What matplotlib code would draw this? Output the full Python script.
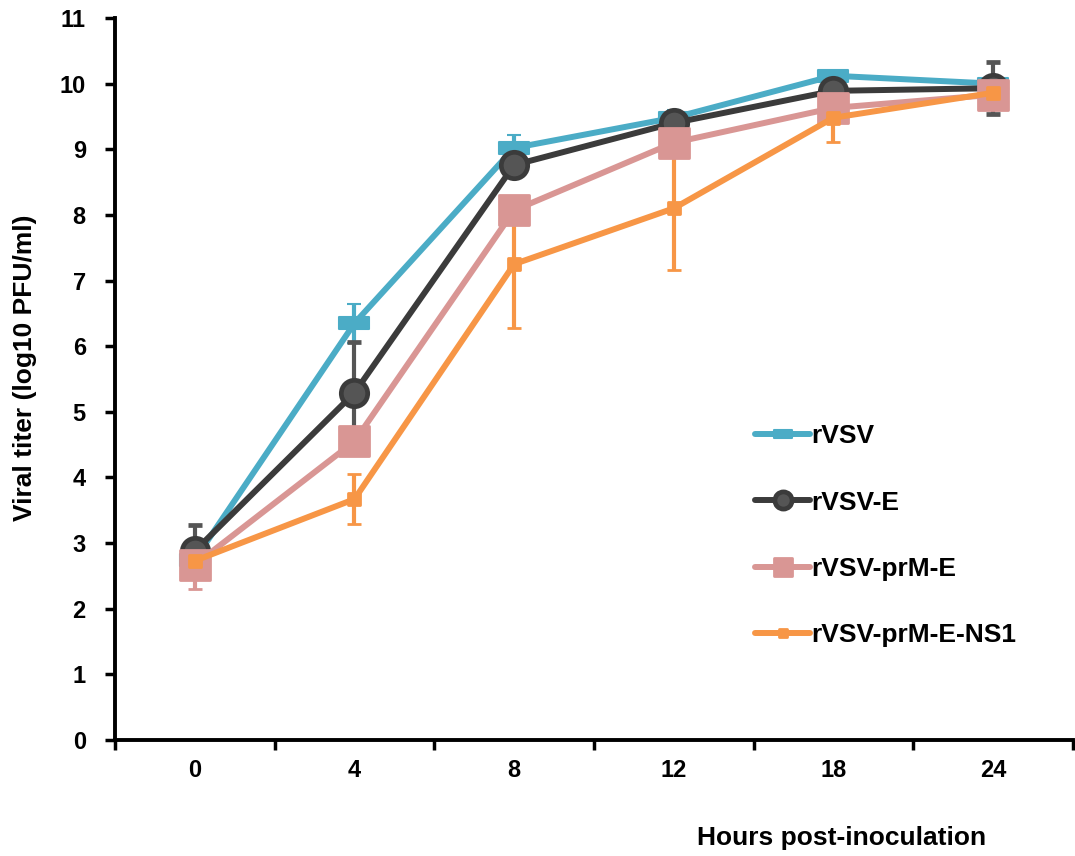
import matplotlib
matplotlib.use("Agg")
import matplotlib.pyplot as plt
from matplotlib.path import Path
from matplotlib.markers import MarkerStyle

# data
hours = ["0", "4", "8", "12", "18", "24"]
series_names = ["rVSV", "rVSV-E", "rVSV-prM-E", "rVSV-prM-E-NS1"]
rvsv = [2.75, 6.35, 9.02, 9.48, 10.12, 10.0]
rvsv_err = [0.1, 0.3, 0.2, 0.12, 0.07, 0.05]
rvsv_e = [2.88, 5.29, 8.76, 9.40, 9.89, 9.93]
rvsv_e_err = [0.40, 0.78, 0.1, 0.15, 0.1, 0.40]
rvsv_prme = [2.67, 4.55, 8.07, 9.10, 9.63, 9.83]
rvsv_prme_err = [0.37, 0.2, 0.2, 0.2, 0.15, 0.1]
rvsv_ns1 = [2.73, 3.67, 7.25, 8.10, 9.48, 9.86]
rvsv_ns1_err = [0.1, 0.38, 0.97, 0.94, 0.37, 0.1]

plt.rcParams['font.family'] = ['Liberation Sans', 'DejaVu Sans']
plt.rcParams['font.weight'] = 'bold'

wide_rect = Path([(-1, -0.42), (1, -0.42), (1, 0.42), (-1, 0.42), (-1, -0.42)],
                 [Path.MOVETO, Path.LINETO, Path.LINETO, Path.LINETO, Path.CLOSEPOLY])

fig = plt.figure(figsize=(10.75, 8.56), dpi=100)
ax = fig.add_axes([0.107, 0.1355, 0.891, 0.8435])

x = list(range(len(hours)))
lw = 4.3
styles = [
    (rvsv, rvsv_err, "#4BACC6", "#4BACC6", wide_rect, 21, "#4BACC6", "#4BACC6", 1.5),
    (rvsv_e, rvsv_e_err, "#3B3B3B", "#555555", "o", 19, "#555555", "#3B3B3B", 3.4),
    (rvsv_prme, rvsv_prme_err, "#D99694", "#D99694", "s", 21, "#D99694", "#D99694", 2),
    (rvsv_ns1, rvsv_ns1_err, "#F79646", "#F79646", "s", 9, "#F79646", "#F79646", 2),
]
for (ys, err, col, ecol, mk, ms, mfc, mec, mew), name in zip(styles, series_names):
    ax.errorbar(x, ys, yerr=err, color=col, ecolor=ecol, lw=lw, elinewidth=3,
                capsize=5, capthick=3.5, marker=MarkerStyle(mk, joinstyle='round'),
                ms=ms, mfc=mfc, mec=mec, mew=mew, label=name,
                solid_capstyle='round', solid_joinstyle='round')

ax.set_xlim(-0.5, 5.5)
ax.set_ylim(0, 11)
ax.set_yticks(range(0, 12))
ax.set_xticks([i - 0.5 for i in range(len(hours) + 1)])
ax.set_xticklabels([])
ax.set_xticks(x, minor=True)
ax.set_xticklabels(hours, minor=True)
ax.tick_params(axis='x', which='minor', length=0, pad=14, labelsize=17)
ax.tick_params(axis='x', which='major', length=7, width=2.5, direction='out')
ax.tick_params(axis='y', length=7, width=2.5, direction='out', labelsize=17, pad=14)
for s in ['top', 'right']:
    ax.spines[s].set_visible(False)
for s in ['left', 'bottom']:
    ax.spines[s].set_linewidth(2.8)

ax.set_ylabel("Viral titer (log10 PFU/ml)", fontsize=19, fontweight='bold')
ax.yaxis.set_label_coords(-0.081, 0.515)
fig.text(0.783, 0.021, "Hours post-inoculation", fontsize=19, fontweight='bold',
         ha='center', va='center')

handles, labels = ax.get_legend_handles_labels()
handles = [h[0] for h in handles]
leg = ax.legend(handles, labels, loc='center left', bbox_to_anchor=(0.668, 0.283),
                frameon=False, borderpad=0, borderaxespad=0, labelspacing=1.6,
                handlelength=2.1, handletextpad=0.05, markerscale=0.65,
                prop={'size': 19, 'weight': 'bold'})

fig.savefig("out.png", dpi=100)
